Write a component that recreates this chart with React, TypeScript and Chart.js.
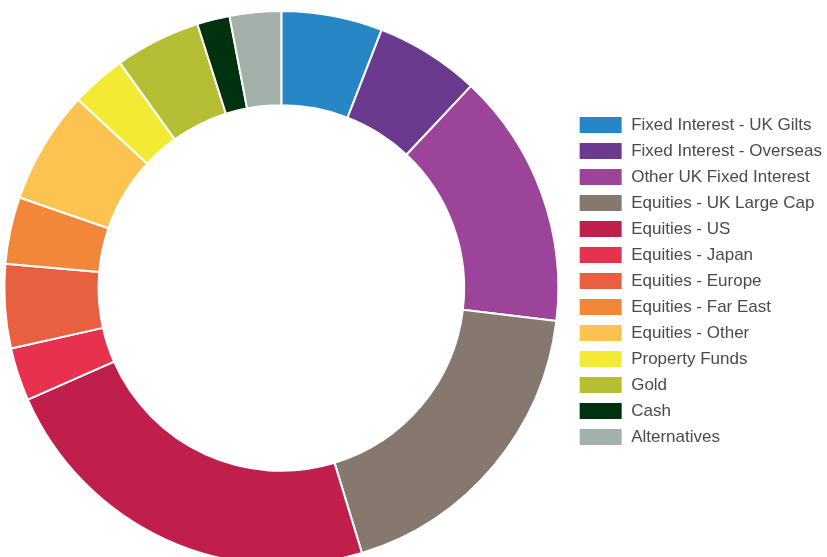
import { useEffect, useRef } from 'react';
import { Chart, registerables } from 'chart.js';

Chart.register(...registerables);

const labels = [
  'Fixed Interest - UK Gilts',
  'Fixed Interest - Overseas',
  'Other UK Fixed Interest',
  'Equities - UK Large Cap',
  'Equities - US',
  'Equities - Japan',
  'Equities - Europe',
  'Equities - Far East',
  'Equities - Other',
  'Property Funds',
  'Gold',
  'Cash',
  'Alternatives',
];

// allocation in percent
const allocation = [5.9, 6.1, 14.9, 18.4, 23.1, 3.1, 4.9, 3.9, 6.6, 3.2, 5.0, 1.9, 3.0];

const colors = [
  '#2787c6', '#6a3a8e', '#9b4499', '#86786f', '#c01f4b', '#e8304f', '#e86040',
  '#f2873a', '#fdc351', '#f3ea33', '#b6bf34', '#01320f', '#a4b1ab',
];

// legend sits a little higher and further right than the layout puts it
const nudgeLegend = {
  id: 'nudgeLegend',
  afterLayout(chart: Chart) {
    const l = chart.legend;
    if (!l) return;
    l.top -= 7;
    l.bottom -= 7;
    l.left += 8;
    l.right += 8;
  },
};

export default function App() {
  const canvasRef = useRef<HTMLCanvasElement>(null);

  useEffect(() => {
    if (!canvasRef.current) return;
    const chart = new Chart(canvasRef.current, {
      type: 'doughnut',
      data: {
        labels,
        datasets: [{
          data: allocation,
          backgroundColor: colors,
          borderColor: '#fff',
          borderWidth: 2,
        }],
      },
      options: {
        animation: false,
        responsive: true,
        maintainAspectRatio: false,
        cutout: '66%',
        layout: { padding: { top: 10, bottom: 10, left: 0, right: 3 } },
        plugins: {
          tooltip: { enabled: false },
          legend: {
            position: 'right',
            labels: {
              boxWidth: 44,
              boxHeight: 18,
              padding: 8,
              color: '#4a4a4a',
              font: { family: '"Liberation Sans", Arial, sans-serif', size: 17 },
            },
          },
        },
      },
      plugins: [nudgeLegend],
    });
    return () => chart.destroy();
  }, []);

  return (
    <div style={{ position: 'fixed', left: 0, top: 0, width: 827, height: 557, overflow: 'hidden', background: '#fff' }}>
      <div style={{ position: 'relative', width: 827, height: 576 }}>
        <canvas ref={canvasRef} />
      </div>
    </div>
  );
}
